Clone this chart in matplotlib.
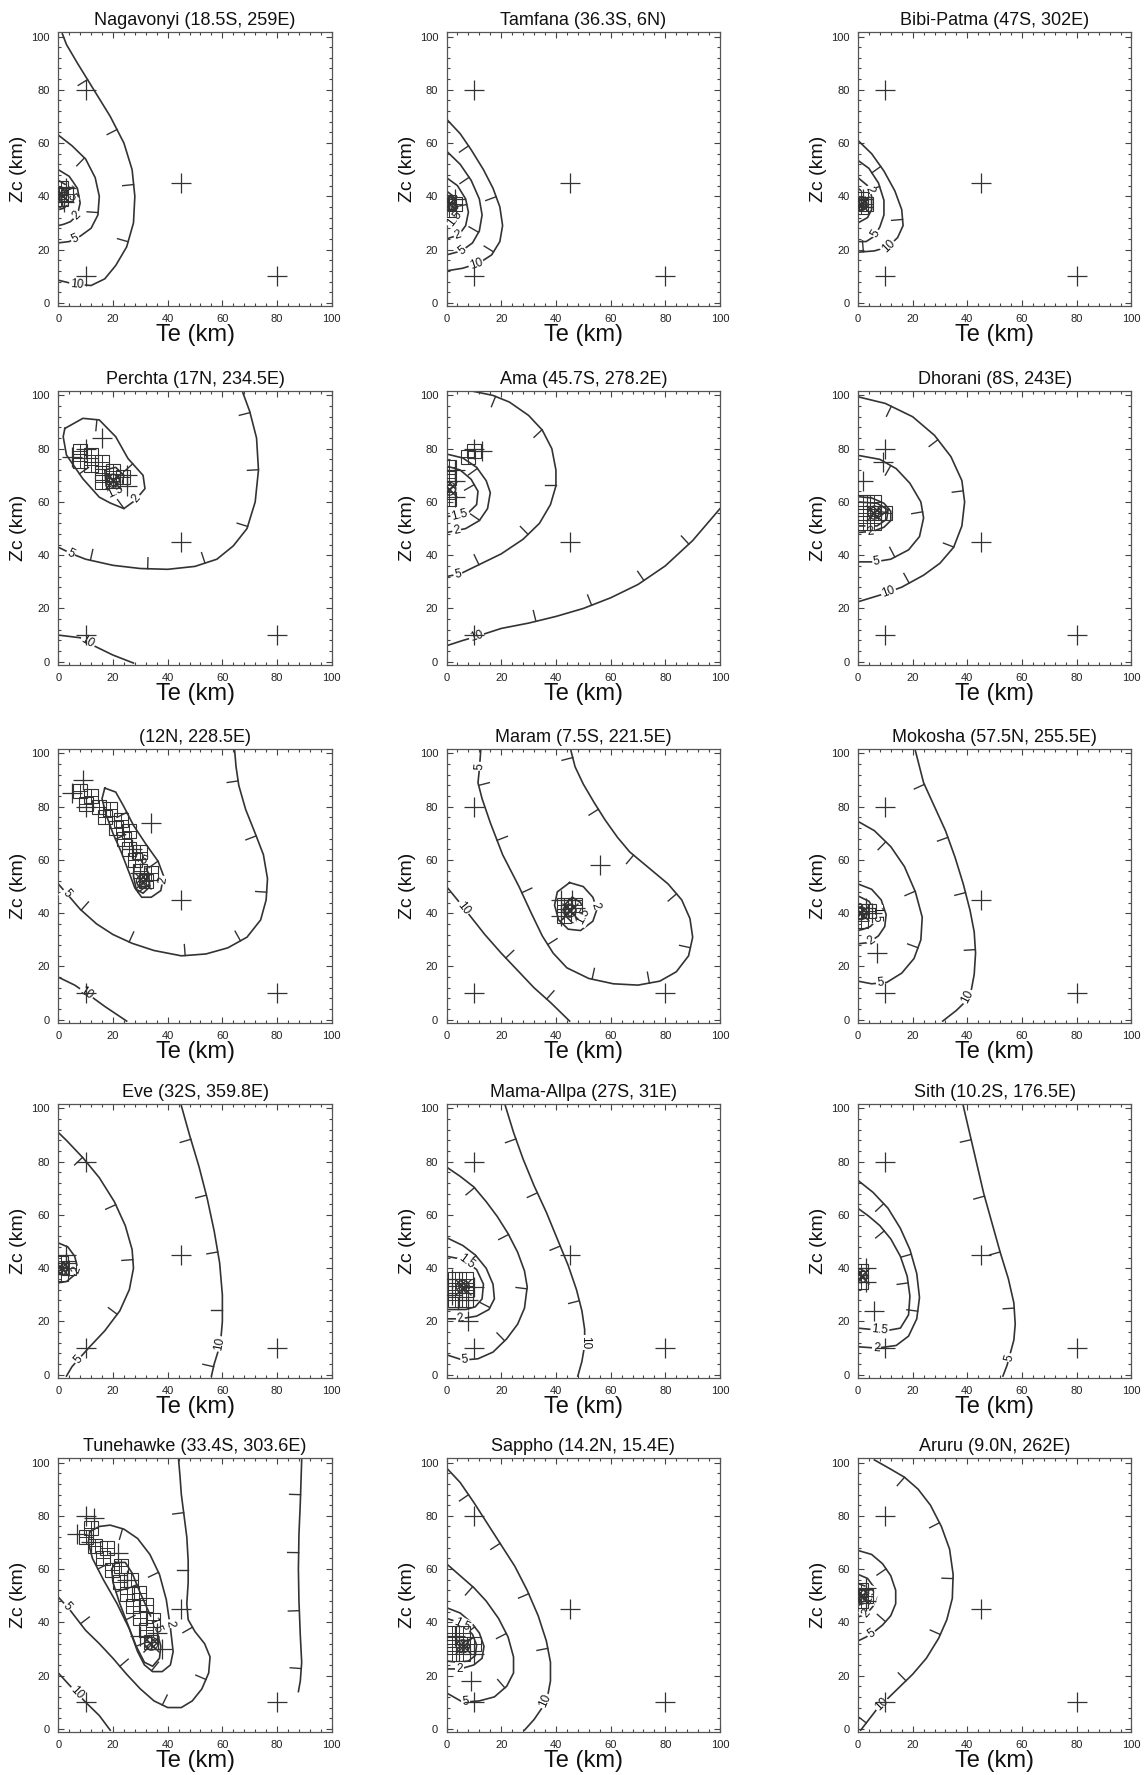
import numpy as np
import matplotlib
matplotlib.use("Agg")
import matplotlib.pyplot as plt
from matplotlib.ticker import MultipleLocator

plt.rcParams["font.family"] = ["Liberation Sans", "DejaVu Sans"]

# ---- data: (level, Te list, Zc list, label position along the line) ----
nagavonyi_contours = [
    (10, [0, 6, 12, 17, 21, 25, 27.5, 28, 27, 24, 19, 13, 7, 3, 1.5],
         [8.5, 7, 6.5, 9, 14, 21, 30, 40, 50, 60, 70, 80, 90, 97, 101], 0.06),
    (5, [0, 5, 10, 13.5, 15, 14.5, 12, 8, 4, 0], [63, 59, 54, 47, 40, 33, 28, 25, 23, 22.5], 0.88),
    (2, [0, 4, 7, 8, 7, 4.5, 2, 0], [50, 47.5, 43, 37.5, 33, 30.5, 29.5, 29], 0.72),
    (1.5, [0, 2.5, 4, 3.5, 2, 0], [46, 44.5, 41, 37, 35.5, 35], 0.45),
]
nagavonyi_crosses = [(10, 80), (45, 45), (80, 10), (10, 10), (3, 43), (2, 38)]
nagavonyi_cells = [(1, 43), (1, 39), (3, 41)]
nagavonyi_best = (1, 41)

tamfana_contours = [
    (10, [0, 5, 9, 13.5, 17, 19.5, 20.5, 19.5, 16.5, 12, 6, 0],
         [69, 63.5, 57.5, 50, 43, 36, 29, 23, 18, 15, 13, 12], 0.85),
    (5, [0, 5, 9, 12, 13, 12, 9.5, 5.5, 0], [57, 52, 46, 39, 33, 27, 22.5, 19.5, 18], 0.88),
    (2, [0, 4, 7, 8, 7, 4.5, 0], [47, 44, 39, 34, 29, 25.5, 24], 0.85),
    (1.5, [0, 2.5, 4, 3.5, 2, 0], [42, 40, 36, 32, 30, 29], 0.75),
]
tamfana_crosses = [(10, 80), (45, 45), (80, 10), (10, 10), (3, 39)]
tamfana_cells = [(1, 38), (1, 35), (3, 37)]
tamfana_best = (1, 37)

bibipatma_contours = [
    (10, [0, 5, 9.5, 13.5, 16, 16.5, 14.5, 11, 6, 0], [61, 56, 49.5, 42, 35, 29, 24.5, 21, 19.5, 19], 0.8),
    (5, [0, 4, 7.5, 9.5, 9.5, 8, 6, 3, 0], [53.5, 50.5, 45, 38.5, 33, 28.5, 25, 23, 23], 0.8),
    (2, [0, 3.5, 5, 5, 3.5, 0], [47, 44, 40, 35, 32, 30], 0.3),
    (1.5, [0, 2, 3, 2.5, 0], [43, 41.5, 38.5, 35.5, 34.5], None),
]
bibipatma_crosses = [(10, 80), (45, 45), (80, 10), (10, 10), (2, 39)]
bibipatma_cells = [(1, 39), (1, 36), (3, 37)]
bibipatma_best = (1, 37)

perchta_contours = [
    (10, [0, 8, 13, 20, 27.5], [10, 9, 6, 2.5, -0.5], 0.38),
    (5, [0, 5, 10, 20, 30, 40, 50, 58, 64, 69, 72, 73.2, 72.5, 70, 67.5],
        [43, 40.5, 38.5, 36.2, 35, 34.7, 35.8, 38.5, 43.5, 50, 60, 72, 84, 94, 101], 0.04),
    (2, [2.4, 9, 15, 21, 25.5, 31, 31.7, 28, 24, 19, 15, 9, 3, 1.8, 2.4],
        [87.6, 91.4, 90.8, 84.5, 76.3, 70, 65, 60.5, 57.5, 59.6, 61.8, 68.7, 77.6, 84.5, 87.6], 0.52),
    (1.5, [17, 21, 24, 23, 20, 17.5, 17], [72, 73, 70, 65, 63.5, 66, 72], 0.6),
]
perchta_crosses = [(5, 77), (10, 80), (16, 84), (25, 70), (25, 66), (45, 45), (80, 10), (10, 10)]
perchta_cells = [(8, 79), (8, 75.5), (12, 77.5), (12, 74), (16, 75), (16, 71), (16, 67.5),
                 (20, 71.5), (20, 68), (23.5, 69.5)]
perchta_best = (20, 68)

ama_contours = [
    (10, [0, 6, 11, 20, 30, 40, 50, 60, 70, 80, 90, 100],
         [6, 8, 9.5, 12.5, 14.5, 17, 20, 24, 29, 36, 45.5, 57.5], 0.1),
    (5, [0, 5, 10, 20, 28, 34, 38, 40, 40, 38.5, 35, 30, 23, 17, 10],
        [32, 33, 35.5, 40.5, 46, 52, 59, 66, 72, 80, 87, 92.5, 97.5, 100, 101.5], 0.04),
    (2, [0, 6, 11, 14.5, 16, 15, 12, 7, 0], [78, 76.5, 73, 68, 63.5, 57.5, 53, 50, 48.5], 0.92),
    (1.5, [0, 5, 9, 11.5, 11, 8, 4, 0], [73.5, 72, 68.5, 64, 59, 56, 55, 54.5], 0.85),
]
ama_crosses = [(10, 80), (13, 79), (3, 72), (3, 68), (3, 62), (45, 45), (10, 10)]
ama_cells = [(1, 73), (1, 69), (1, 61), (8, 77), (10, 79)]
ama_best = (1, 65)

dhorani_contours = [
    (10, [0, 10, 20, 28, 34, 38, 39, 38, 35, 30, 24, 16, 8, 0],
         [99.5, 97, 92, 85, 77, 68, 60, 51, 43, 37, 32.5, 28, 25, 22.5], 0.9),
    (5, [0, 8, 14, 19, 23, 24, 22.5, 18.5, 12, 6, 0],
        [77.5, 76, 72.5, 67, 60, 54, 47, 42, 38.5, 37.5, 37.5], 0.9),
    (2, [0, 5, 9.5, 12, 12, 9.5, 5.5, 0], [62, 61.5, 59.5, 56.5, 53, 50.5, 49, 48.5], 0.85),
    (1.5, [0, 7, 11, 10.5, 7, 0], [60, 59.5, 57, 53.5, 51, 51], None),
]
dhorani_crosses = [(10, 80), (9, 75), (2, 68), (45, 45), (80, 10), (10, 10)]
dhorani_cells = [(2, 52), (6, 52), (2, 56), (6, 56), (10, 56), (2, 60), (6, 60)]
dhorani_best = (6, 56)

n12_contours = [
    (10, [0, 6, 11, 17, 25], [16, 13, 9.5, 5, -0.5], 0.4),
    (5, [0, 3, 8, 14, 20, 27, 35, 45, 54, 62, 69, 74, 76, 76.5, 75, 72, 68.5, 66, 65, 64.5],
        [51, 47.5, 41.5, 36, 32, 28.7, 26, 24, 24.7, 27, 31, 37.5, 45, 53, 62, 70, 79, 88, 95, 101], 0.03),
    (2, [17, 21, 24, 27.5, 32, 36.5, 38.5, 37.5, 34, 30.5, 28, 26, 23, 20, 17.5, 16, 17],
        [87, 85.5, 80, 73, 66, 59.5, 54, 48.5, 46, 46, 49.5, 55, 63, 70, 77, 83, 87], 0.43),
    (1.5, [28, 30.5, 33, 33.5, 31, 28.5, 27.5, 28], [61, 60, 55, 50, 47.5, 49, 54, 61], 0.05),
]
n12_crosses = [(9, 90), (5, 85), (10, 80), (34, 74), (45, 45), (80, 10), (10, 10), (27, 64), (30, 55)]
n12_cells = [(8, 86), (12, 84), (10, 81), (15, 80), (17, 76), (19, 79), (21, 72), (23, 75),
             (24, 68), (26, 71), (26, 64), (28, 60), (30, 63), (30, 56), (32, 52), (34, 55)]
n12_best = (31, 52)

maram_contours = [
    (10, [0, 4, 9, 14, 20, 26, 32, 38, 45], [50, 45, 38.5, 32, 25, 18.5, 12, 6.5, -0.5], 0.15),
    (5, [12.5, 12, 11.5, 13, 16, 20.5, 26.5, 31, 35, 39, 44, 52, 61, 70, 78, 84, 88.5, 90, 89, 86, 81,
         74, 67, 62.5, 58, 54, 50, 47, 45.5],
        [101, 94, 89, 83, 74, 62, 50, 40, 31.5, 25, 19.5, 15.5, 13.5, 13, 14.5, 18, 24, 31, 38, 45, 51,
         57, 63, 68.5, 75, 81.5, 88.5, 95, 101], 0.025),
    (2, [45, 50, 53.5, 55, 53.5, 49, 44.5, 41, 39.5, 40.5, 45],
        [51.5, 50, 46, 41.5, 37, 33.5, 34, 37.5, 43, 48, 51.5], 0.27),
    (1.5, [46, 49, 50.5, 49, 46, 43.5, 43.5, 46], [46, 44, 40, 37, 36.5, 39, 43.5, 46], 0.36),
]
maram_crosses = [(10, 80), (56, 58), (80, 10), (10, 10), (42, 45), (46, 45), (42, 39), (47, 42)]
maram_cells = [(43, 43), (47, 43), (43, 39)]
maram_best = (45, 41)

mokosha_contours = [
    (10, [21, 24, 28, 32, 35.5, 38.5, 41, 42.5, 43, 42.5, 41.5, 39, 36, 31],
         [101, 89, 80, 71, 61, 51, 41, 33, 25, 17, 11.5, 6.5, 3.5, -0.5], 0.88),
    (5, [0, 6, 12, 17, 21, 23.5, 23, 20.5, 16, 10.5, 5, 0],
        [74.5, 71, 65, 57.5, 48, 38.5, 30, 23, 17.5, 14, 13.5, 14.5], 0.9),
    (2, [0, 5, 8.5, 10.3, 9.8, 7.5, 4, 0], [51, 49, 45, 39.5, 35, 31.5, 29, 28.5], 0.85),
    (1.5, [0, 4, 6.5, 6.5, 4.5, 2, 0], [46.5, 44.5, 40.5, 37, 35, 34, 33.5], 0.5),
]
mokosha_crosses = [(10, 80), (45, 45), (80, 10), (10, 10), (7, 25), (3, 42), (5, 40)]
mokosha_cells = [(1, 41), (4, 41), (1, 37)]
mokosha_best = (1, 40)

eve_contours = [
    (10, [45, 48, 51.5, 54.5, 57, 59, 60, 60, 59.5, 58.5, 57, 56],
         [101, 90, 78, 66, 54, 42, 30, 20, 14, 9, 4, -0.5], 0.88),
    (5, [0, 3, 9, 15, 20.5, 24.5, 27, 27.5, 26, 22.5, 17, 11.5, 8, 5, 3],
        [91, 88, 81.5, 74, 65, 56, 47, 40, 32, 24, 16.5, 10.5, 6.5, 3, -0.5], 0.93),
    (2, [0, 3.5, 6, 7, 6, 3, 0], [49.5, 48, 44.5, 40.5, 37.5, 35, 34.5], 0.6),
]
eve_crosses = [(10, 80), (45, 45), (80, 10), (10, 10), (3, 45), (3, 42)]
eve_cells = [(1, 42), (1, 38), (4, 40)]
eve_best = (1, 40)

mamaallpa_contours = [
    (10, [21.5, 24.5, 28, 32, 36.5, 40.5, 44.5, 47.5, 49.5, 50.5, 50.5, 49.5, 48],
         [101, 91, 81, 71, 61, 51, 41, 32, 24, 17, 11, 5, -0.5], 0.88),
    (5, [0, 5, 10, 14.5, 18.5, 22.5, 26, 28.5, 29.5, 28.5, 26, 22, 17, 11.5, 6, 0],
        [78, 74.5, 70.5, 65, 59.5, 53, 46, 39, 33, 25, 19, 13.5, 8.5, 6, 5.5, 7.5], 0.93),
    (2, [0, 6, 10.5, 14.5, 17, 17.5, 15.5, 11, 5, 0], [51.5, 48.5, 45, 40, 34, 28.5, 24.5, 22, 21, 21], 0.9),
    (1.5, [0, 6, 11, 13.5, 13, 10.5, 7, 3, 0], [44.5, 43.3, 39.5, 34, 28.5, 25.5, 24.5, 24.5, 24.5], 0.2),
]
mamaallpa_crosses = [(10, 80), (45, 45), (80, 10), (10, 10), (8, 20), (2, 36), (2, 30), (10, 33), (8, 28)]
mamaallpa_cells = [(3, 36), (7, 36), (3, 32), (7, 32), (3, 28), (7, 28)]
mamaallpa_best = (6, 33)

sith_contours = [
    (5, [38.5, 41, 43.5, 46, 49, 52, 55, 57, 57.5, 57, 54.5, 53],
        [101, 90, 79, 68, 57, 46, 36, 27, 19, 13, 3.5, -0.5], 0.93),
    (2, [0, 5.5, 11, 15.5, 19, 21.5, 22.5, 21.5, 18.5, 14, 7, 0],
        [73, 68.5, 62.5, 55, 47, 38, 29, 21, 14.5, 11, 10, 10.5], 0.92),
    (1.5, [0, 4, 8, 12, 15.5, 18, 19, 18.5, 15.5, 10, 0],
          [62.5, 59.5, 56, 51, 44.5, 37, 29.5, 22.5, 17.5, 16.5, 17.5], 0.88),
]
sith_crosses = [(10, 80), (45, 45), (80, 10), (10, 10), (6, 24), (3, 40), (3, 35)]
sith_cells = [(1, 39), (1, 35)]
sith_best = (1, 37)

tunehawke_contours = [
    (10, [0, 4, 10, 15, 19], [21, 16.5, 10, 5, -0.5], 0.35),
    (10, [89, 88.5, 88, 87.8, 88, 88.5, 89, 88.5, 87.8], [101, 85, 73, 60, 48, 35, 25, 18, 14], None),
    (5, [0, 4, 10, 15, 20, 25, 30, 35, 40, 45, 49, 52.5, 55, 55.5, 53.5, 50, 47.5, 47, 47.5, 47.5, 47,
         46, 45, 44.5, 44],
        [49.5, 45, 37, 32, 26.5, 20.5, 15, 10.5, 8, 8, 10.5, 15, 21, 27, 32, 36.5, 41, 47, 55, 63, 72,
         80, 88, 95, 101], 0.03),
    (2, [11.5, 15, 19, 24, 29, 33.5, 37, 39.5, 41, 42, 41, 38, 34.5, 31.5, 29, 26, 21.5, 16.5, 12.5, 11, 11.5],
        [74, 76, 76.5, 75, 71.5, 65.5, 58, 48.5, 38, 29, 24, 21.5, 21.5, 24, 29, 37.5, 47, 56, 64, 70, 74], 0.4),
    (1.5, [21, 24.5, 27, 30, 33.5, 36, 37.5, 37, 34.5, 31.5, 28.5, 25.5, 22.5, 20, 19.5, 21],
          [62.5, 62.5, 58.5, 51, 43, 37, 31, 26.5, 23.5, 25, 31, 39, 47, 55, 60, 62.5], 0.33),
]
tunehawke_crosses = [(10, 80), (13, 79), (7, 73), (12, 70), (45, 45), (80, 10), (10, 10),
                     (22, 66), (25, 56), (30, 35), (36, 36), (38, 30)]
tunehawke_cells = [(10, 72), (12, 75.5), (13.5, 68.5), (16.5, 64), (18, 68), (19.5, 59.5), (22.5, 55),
                   (23, 61), (25, 50.5), (26.5, 56), (27.5, 46), (29.5, 51), (30, 41.5), (32, 46.5),
                   (32, 37), (34.5, 41), (34, 32.5)]
tunehawke_best = (34, 32)

sappho_contours = [
    (10, [0, 5, 10, 15, 20, 25, 29.5, 33.5, 36.5, 38, 38, 37, 35, 32, 28.5],
         [98, 92.5, 85, 77, 69, 61, 52, 42.5, 33, 25, 18, 12.5, 8, 3.5, -0.5], 0.88),
    (5, [0, 5, 10, 14.5, 19, 22.5, 24.5, 24.5, 22, 17.5, 12, 6, 0],
        [62, 57.5, 53, 48, 41.5, 34.5, 27, 21, 16, 12, 10.5, 10, 13.5], 0.9),
    (2, [0, 5, 9, 12, 13.7, 13, 10, 5, 0], [45.5, 43.5, 40, 36, 31, 26.5, 24, 22.5, 22.5], 0.88),
    (1.5, [0, 3, 6, 9.5, 11, 10.5, 8, 4, 0], [41.5, 40.5, 39, 35.5, 31.5, 27.5, 25.5, 25, 25.5], 0.2),
]
sappho_crosses = [(10, 80), (45, 45), (80, 10), (10, 10), (9, 18), (10, 28), (3, 35)]
sappho_cells = [(2, 28), (6, 28), (2, 32), (6, 32), (10, 32), (2, 36), (6, 36)]
sappho_best = (6, 31)

aruru_contours = [
    (10, [6, 12, 17, 22, 26.5, 30.5, 33.5, 34.8, 34.5, 32.5, 29.5, 25, 20, 15, 11, 7, 4, 1],
         [101, 97.5, 94.5, 90, 84, 76, 67.5, 58, 49, 41, 34, 26.5, 20.5, 15.5, 11.5, 7.5, 3.5, -0.5], 0.9),
    (5, [0, 5, 9, 12, 13.8, 13.8, 12, 9, 6, 3, 0],
        [67, 65.5, 62, 57.5, 52, 47, 42.5, 39, 36.5, 34.5, 33], 0.88),
    (2, [0, 3.5, 6, 6.8, 5.5, 3, 0], [58, 56.5, 53, 49.5, 46, 43, 42], 0.85),
    (1.5, [0, 3, 4.5, 3.5, 0], [54.5, 53.5, 50.5, 47.5, 46.5], 0.5),
]
aruru_crosses = [(10, 80), (45, 45), (80, 10), (10, 10), (3, 53), (3, 48)]
aruru_cells = [(1, 52), (1, 48), (3, 50)]
aruru_best = (1, 50)

titles = ["Nagavonyi (18.5S, 259E)", "Tamfana (36.3S, 6N)", "Bibi-Patma (47S, 302E)",
          "Perchta (17N, 234.5E)", "Ama (45.7S, 278.2E)", "Dhorani (8S, 243E)",
          "(12N, 228.5E)", "Maram (7.5S, 221.5E)", "Mokosha (57.5N, 255.5E)",
          "Eve (32S, 359.8E)", "Mama-Allpa (27S, 31E)", "Sith (10.2S, 176.5E)",
          "Tunehawke (33.4S, 303.6E)", "Sappho (14.2N, 15.4E)", "Aruru (9.0N, 262E)"]

panels = [
    (nagavonyi_contours, nagavonyi_crosses, nagavonyi_cells, nagavonyi_best),
    (tamfana_contours, tamfana_crosses, tamfana_cells, tamfana_best),
    (bibipatma_contours, bibipatma_crosses, bibipatma_cells, bibipatma_best),
    (perchta_contours, perchta_crosses, perchta_cells, perchta_best),
    (ama_contours, ama_crosses, ama_cells, ama_best),
    (dhorani_contours, dhorani_crosses, dhorani_cells, dhorani_best),
    (n12_contours, n12_crosses, n12_cells, n12_best),
    (maram_contours, maram_crosses, maram_cells, maram_best),
    (mokosha_contours, mokosha_crosses, mokosha_cells, mokosha_best),
    (eve_contours, eve_crosses, eve_cells, eve_best),
    (mamaallpa_contours, mamaallpa_crosses, mamaallpa_cells, mamaallpa_best),
    (sith_contours, sith_crosses, sith_cells, sith_best),
    (tunehawke_contours, tunehawke_crosses, tunehawke_cells, tunehawke_best),
    (sappho_contours, sappho_crosses, sappho_cells, sappho_best),
    (aruru_contours, aruru_crosses, aruru_cells, aruru_best),
]

INK = "#333333"
TICK_GAP = 58   # px between downhill ticks
TICK_LEN = 11   # px


def draw_contour(ax, lev, te, zc, frac, best):
    ax.plot(te, zc, color=INK, lw=1.2, zorder=2, solid_joinstyle="round")
    pts = ax.transData.transform(np.column_stack([te, zc]))
    seg = np.diff(pts, axis=0)
    ds = np.hypot(seg[:, 0], seg[:, 1])
    s = np.concatenate([[0], np.cumsum(ds)])
    inv = ax.transData.inverted()
    bp = ax.transData.transform([best])[0]

    def at(si):
        i = int(np.clip(np.searchsorted(s, si) - 1, 0, len(seg) - 1))
        t = (si - s[i]) / ds[i]
        return pts[i] + t * seg[i], seg[i] / ds[i]

    s_lab = frac * s[-1] if frac is not None else -1e9
    for si in np.arange(TICK_GAP * 0.6, s[-1], TICK_GAP):
        if abs(si - s_lab) < 16:
            continue
        p, d = at(si)
        n = np.array([-d[1], d[0]])
        if np.dot(n, bp - p) < 0:
            n = -n
        q = inv.transform([p, p + TICK_LEN * n])
        ax.plot(q[:, 0], q[:, 1], color=INK, lw=1.0, zorder=2)

    if frac is not None:
        p, d = at(s_lab)
        ang = np.degrees(np.arctan2(d[1], d[0]))
        if ang > 90:
            ang -= 180
        if ang < -90:
            ang += 180
        x, y = inv.transform(p)
        ax.text(x, y, f"{lev:g}", fontsize=8.5, color="#111", rotation=ang,
                rotation_mode="anchor", ha="center", va="center", zorder=3,
                bbox=dict(boxstyle="square,pad=0.1", fc="white", ec="none"))


fig = plt.figure(figsize=(11.47, 17.75), dpi=100)
lefts = [0.0508, 0.3893, 0.7480]
bottoms = [0.8276, 0.6254, 0.4237, 0.2237, 0.0242]

for k, (title, (contours, crosses, cells, best)) in enumerate(zip(titles, panels)):
    r, c = divmod(k, 3)
    ax = fig.add_axes([lefts[c], bottoms[r], 0.23845, 0.15437])
    ax.set_xlim(0, 100)
    ax.set_ylim(-1.2, 101.7)
    ax.xaxis.set_major_locator(MultipleLocator(20))
    ax.yaxis.set_major_locator(MultipleLocator(20))
    ax.xaxis.set_minor_locator(MultipleLocator(4))
    ax.yaxis.set_minor_locator(MultipleLocator(4))
    ax.tick_params(which="both", direction="in", top=True, right=True, colors="#444",
                   labelcolor="#222", labelsize=8, pad=6, width=0.8)
    ax.tick_params(which="major", length=4.5)
    ax.tick_params(which="minor", length=2.5)
    for sp in ax.spines.values():
        sp.set_color("#555")
        sp.set_linewidth(0.9)
    ax.set_title(title, fontsize=13, pad=5, color="#111")
    ax.set_xlabel("Te (km)", fontsize=17, labelpad=0, color="#111")
    ax.set_ylabel("Zc (km)", fontsize=14, labelpad=3, color="#111")

    for lev, te, zc, frac in contours:
        draw_contour(ax, lev, te, zc, frac, best)

    cx = [p[0] for p in cells]
    cy = [p[1] for p in cells]
    ax.plot(cx, cy, ls="none", marker="s", ms=10, mfc="none", mec=INK, mew=0.8, zorder=4)
    ax.plot(cx, cy, ls="none", marker="+", ms=10, mec=INK, mew=0.7, zorder=4)

    px = [p[0] for p in crosses]
    py = [p[1] for p in crosses]
    ax.plot(px, py, ls="none", marker="+", ms=14, mec=INK, mew=0.9, zorder=5)

    ax.scatter([best[0]], [best[1]], s=90, marker="o", facecolors="none", edgecolors=INK,
               linewidths=0.8, hatch="xxxxx", zorder=6)
    ax.plot([best[0]], [best[1]], marker="x", ms=11, mec=INK, mew=1.0, zorder=6)

fig.savefig("out.png", dpi=100)
